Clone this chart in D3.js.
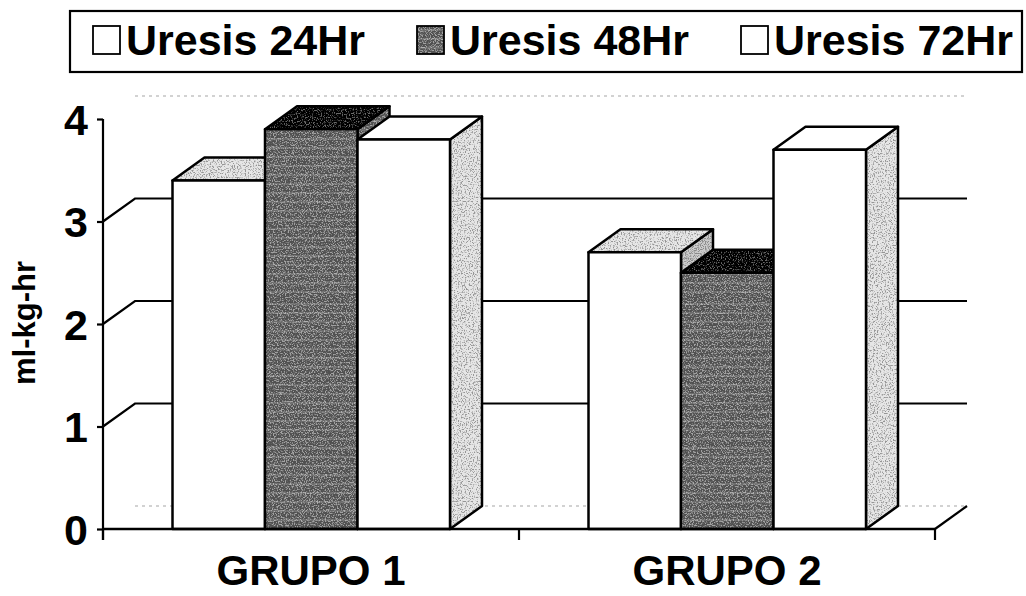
<!DOCTYPE html>
<html>
<head>
<meta charset="utf-8">
<script src="https://cdn.jsdelivr.net/npm/d3@7"></script>
<style>
  body { margin: 0; background: #fff; }
  svg { display: block; }
  text { font-family: "Liberation Sans", Arial, sans-serif; font-weight: bold; fill: #000; }
</style>
</head>
<body>
<svg width="1026" height="596"></svg>
<script>
var categories = ["GRUPO 1", "GRUPO 2"];
var series = ["Uresis 24Hr", "Uresis 48Hr", "Uresis 72Hr"];
var uresis24 = [3.4, 2.7];
var uresis48 = [3.9, 2.5];
var uresis72 = [3.8, 3.7];
var yTicks = [0, 1, 2, 3, 4];
var yTitle = "ml-kg-hr";

var values = [uresis24, uresis48, uresis72];

var svg = d3.select("svg"),
    width = +svg.attr("width"),
    height = +svg.attr("height");

// oblique depth of the 3d box
var dx = 32, dy = -23;

var y = d3.scaleLinear().domain([0, 4]).range([529, 119]);
var x0 = d3.scaleBand().domain(categories).range([103, 935]);
var x1 = d3.scaleBand().domain(series).range([69.5, 347]);

// stipple textures, made with noise filters
var defs = svg.append("defs");
function stipple(id, base, dot, slope, offset, seed, lines) {
    var f = defs.append("filter").attr("id", "f-" + id)
        .attr("x", 0).attr("y", 0).attr("width", 1).attr("height", 1);
    f.append("feTurbulence")
        .attr("type", "fractalNoise")
        .attr("baseFrequency", 0.75)
        .attr("numOctaves", 2)
        .attr("seed", seed)
        .attr("result", "n");
    f.append("feColorMatrix")
        .attr("in", "n")
        .attr("type", "matrix")
        .attr("values", "0 0 0 0 " + dot + "  0 0 0 0 " + dot + "  0 0 0 0 " + dot + "  " + slope + " 0 0 0 " + offset);
    var p = defs.append("pattern").attr("id", id)
        .attr("patternUnits", "userSpaceOnUse")
        .attr("width", 300).attr("height", 300);
    p.append("rect").attr("width", 300).attr("height", 300).attr("fill", base);
    p.append("rect").attr("width", 300).attr("height", 300)
        .attr("fill", "#000").attr("filter", "url(#f-" + id + ")");
    if (lines) {
        p.selectAll("line").data(d3.range(4, 300, 9)).enter().append("line")
            .attr("x1", 0).attr("x2", 300)
            .attr("y1", function(d) { return d; })
            .attr("y2", function(d) { return d; })
            .attr("stroke", "#fff").attr("stroke-opacity", 0.3).attr("stroke-width", 1.2);
    }
}
stipple("light", "#e6e6e6", 0.3, 5, -2.5, 3, false);
stipple("mid", "#cccccc", 0.25, 5, -2.3, 5, false);
stipple("dark", "#a2a2a2", 0.08, 5.5, -1.9, 7, true);
stipple("darker", "#6a6a6a", 0.0, 5.5, -1.7, 9, false);

var faces = [
    { front: "#fff", top: "url(#light)", side: "url(#mid)" },
    { front: "url(#dark)", top: "url(#darker)", side: "url(#dark)" },
    { front: "#fff", top: "#fff", side: "url(#light)" }
];

// back wall and floor
var walls = svg.append("g");
walls.append("line")
    .attr("x1", 103 + dx).attr("x2", 935 + dx)
    .attr("y1", y(4) + dy).attr("y2", y(4) + dy)
    .attr("stroke", "#c4c4c4").attr("stroke-width", 1.5).attr("stroke-dasharray", "3,4");
walls.append("line")
    .attr("x1", 103 + dx).attr("x2", 935 + dx)
    .attr("y1", y(0) + dy).attr("y2", y(0) + dy)
    .attr("stroke", "#c4c4c4").attr("stroke-width", 1.5).attr("stroke-dasharray", "3,4");

var grid = walls.selectAll(".grid").data(yTicks.filter(function(d) { return d > 0 && d < 4; }))
    .enter().append("g");
grid.append("path")
    .attr("fill", "none").attr("stroke", "#000").attr("stroke-width", 2.2)
    .attr("d", function(d) {
        return "M103," + y(d) + "L" + (103 + dx) + "," + (y(d) + dy) + "H" + (935 + dx);
    });
walls.append("line")
    .attr("x1", 935).attr("y1", y(0))
    .attr("x2", 935 + dx).attr("y2", y(0) + dy)
    .attr("stroke", "#000").attr("stroke-width", 2.2);

// bars
var bars = [];
categories.forEach(function(c, i) {
    series.forEach(function(s, j) {
        bars.push({ cat: c, ser: s, j: j, v: values[j][i] });
    });
});

var bar = svg.append("g").selectAll("g").data(bars).enter().append("g")
    .attr("stroke", "#000").attr("stroke-width", 2.5).attr("stroke-linejoin", "round");

function bx(d) { return x0(d.cat) + x1(d.ser); }
var bw = x1.bandwidth();

bar.append("path")
    .attr("fill", function(d) { return faces[d.j].side; })
    .attr("d", function(d) {
        var x = bx(d) + bw, t = y(d.v), b = y(0);
        return "M" + x + "," + t + "L" + (x + dx) + "," + (t + dy) +
            "L" + (x + dx) + "," + (b + dy) + "L" + x + "," + b + "Z";
    });
bar.append("path")
    .attr("fill", function(d) { return faces[d.j].top; })
    .attr("d", function(d) {
        var x = bx(d), t = y(d.v);
        return "M" + x + "," + t + "L" + (x + bw) + "," + t +
            "L" + (x + bw + dx) + "," + (t + dy) + "L" + (x + dx) + "," + (t + dy) + "Z";
    });
bar.append("rect")
    .attr("fill", function(d) { return faces[d.j].front; })
    .attr("x", bx)
    .attr("y", function(d) { return y(d.v); })
    .attr("width", bw)
    .attr("height", function(d) { return y(0) - y(d.v); });

// y axis
var yAxis = svg.append("g")
    .attr("transform", "translate(103,0)")
    .call(d3.axisLeft(y).tickValues(yTicks).tickSize(6).tickSizeOuter(0).tickPadding(9).tickFormat(d3.format("d")));
yAxis.attr("font-family", null);
yAxis.select(".domain").remove();
yAxis.selectAll(".tick line").attr("stroke", "#000").attr("stroke-width", 2.2);
yAxis.selectAll(".tick text")
    .attr("font-size", 43).attr("dy", "0.36em");
svg.append("line")
    .attr("x1", 103).attr("x2", 103)
    .attr("y1", y(4)).attr("y2", y(0) + 11)
    .attr("stroke", "#000").attr("stroke-width", 2.2);

// x axis
svg.append("line")
    .attr("x1", 103).attr("x2", 935)
    .attr("y1", y(0)).attr("y2", y(0))
    .attr("stroke", "#000").attr("stroke-width", 2.5);
var bounds = categories.map(function(c) { return x0(c); }).concat([x0.range()[1]]);
svg.append("g").selectAll("line").data(bounds).enter().append("line")
    .attr("x1", function(d) { return d; }).attr("x2", function(d) { return d; })
    .attr("y1", y(0)).attr("y2", y(0) + 11)
    .attr("stroke", "#000").attr("stroke-width", 2.2);

var xAxis = svg.append("g")
    .attr("transform", "translate(0," + y(0) + ")")
    .call(d3.axisBottom(x0).tickSize(0).tickPadding(26));
xAxis.attr("font-family", null);
xAxis.select(".domain").remove();
xAxis.selectAll(".tick text").attr("font-size", 42).attr("dy", "0.71em");

svg.append("text")
    .attr("transform", "translate(35,323) rotate(-90)")
    .attr("text-anchor", "middle")
    .attr("font-size", 31)
    .text(yTitle);

// legend
var legend = svg.append("g");
legend.append("rect")
    .attr("x", 70).attr("y", 11).attr("width", 952).attr("height", 61)
    .attr("fill", "#fff").attr("stroke", "#000").attr("stroke-width", 2.2);
var item = legend.selectAll(".item").data(series).enter().append("g")
    .attr("transform", function(d, i) { return "translate(" + (93 + i * 324) + ",26)"; });
item.append("rect")
    .attr("width", 27).attr("height", 28)
    .attr("fill", function(d, i) { return faces[i].front; })
    .attr("stroke", "#000").attr("stroke-width", 1.8);
item.append("text")
    .attr("x", 33).attr("y", 29)
    .attr("font-size", 43)
    .text(function(d) { return d; });
</script>
</body>
</html>
